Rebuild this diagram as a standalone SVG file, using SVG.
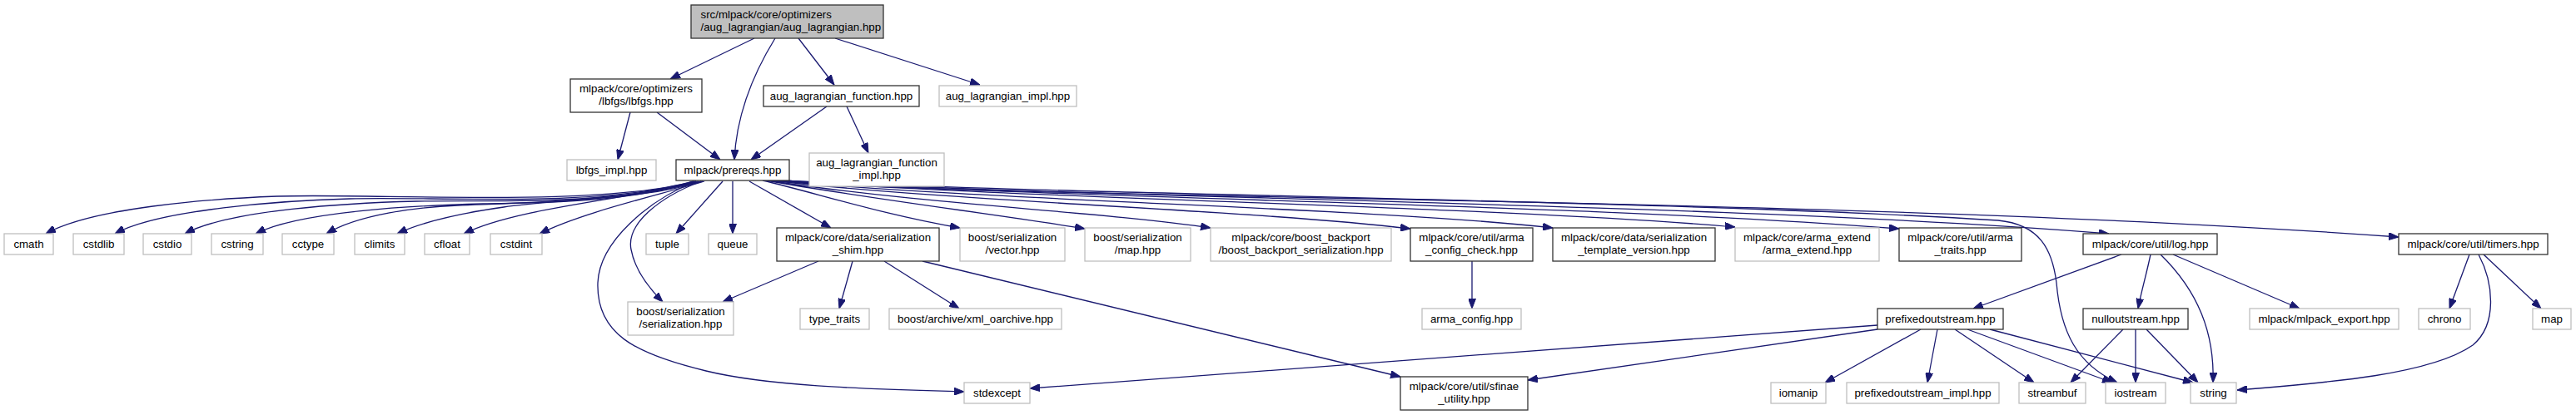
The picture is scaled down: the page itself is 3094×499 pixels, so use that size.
<svg xmlns="http://www.w3.org/2000/svg" width="3094" height="499" viewBox="0 0 3094 499">
<style>
text{font-family:"Liberation Sans",Arial,sans-serif;font-size:13.3px;fill:#000;text-anchor:middle}
.d rect{fill:#fff;stroke:#333;stroke-width:1.3}
.u rect{fill:#fff;stroke:#bfbfbf;stroke-width:1.3}
.r rect{fill:#bfbfbf;stroke:#333;stroke-width:1.3}
.r text{text-anchor:start}
#edges path{fill:none;stroke:#191970;stroke-width:1.3;marker-end:url(#a)}
</style>
<defs>
<marker id="a" viewBox="0 0 12 9" refX="12" refY="4.5" markerWidth="12" markerHeight="9" orient="auto" markerUnits="userSpaceOnUse"><path d="M0,0L12,4.5L0,9z" fill="#191970" stroke="#191970" stroke-width="1"/></marker>
</defs>
<rect width="3094" height="499" fill="#fff"/>
<g id="edges">
<path d="M906,46L805,95"/>
<path d="M931,46C910,80 885,130 882,192"/>
<path d="M959,46L1002,102"/>
<path d="M1003,46L1177,102"/>
<path d="M757,135L742,192"/>
<path d="M789,135L865,192"/>
<path d="M993,128L902,192"/>
<path d="M1017,128L1043,184"/>
<path d="M832,218C720,250 450,232 333,236C250,239 110,250 55,281"/>
<path d="M834,218C720,250 520,236 420,239C340,241 190,252 138,281"/>
<path d="M836,218C730,248 590,240 500,242C420,244 275,252 222,281"/>
<path d="M838,218C740,246 650,243 580,245C500,247 360,254 307,281"/>
<path d="M840,218C760,242 620,244 550,247C500,249 430,258 392,281"/>
<path d="M842,218C780,240 660,240 605,249C570,254 515,263 477,281"/>
<path d="M844,218C750,240 620,250 557,281"/>
<path d="M846,218C790,235 700,255 648,281"/>
<path d="M836,218C780,240 720,290 718,340C716,400 760,425 848,446C930,466 1060,468 1158,471"/>
<path d="M842,218C790,238 752,270 758,300C762,322 778,345 796,363"/>
<path d="M868,218L812,281"/>
<path d="M880,218L880,281"/>
<path d="M900,218L998,274"/>
<path d="M916,217C980,232 1060,258 1153,274"/>
<path d="M920,217C1050,240 1200,258 1303,275"/>
<path d="M923,217C1100,245 1330,255 1454,274"/>
<path d="M926,217C1150,243 1500,252 1694,275"/>
<path d="M929,217C1200,242 1650,250 1865,274"/>
<path d="M932,217C1250,240 1800,248 2084,273"/>
<path d="M935,217C1300,240 1900,245 2281,275"/>
<path d="M938,217C1300,238 2100,245 2533,281"/>
<path d="M945,217C1150,240 2200,235 2881,285"/>
<path d="M940,217C1300,235 2000,240 2400,265C2450,270 2465,300 2470,340C2475,400 2495,438 2543,460"/>
<path d="M983,314L868,363"/>
<path d="M1024,314L1008,371"/>
<path d="M1062,314L1152,371"/>
<path d="M1108,314L1682,453"/>
<path d="M1768,314L1768,371"/>
<path d="M2548,306L2370,371"/>
<path d="M2583,306C2578,330 2572,350 2568,371"/>
<path d="M2595,306C2640,350 2660,400 2658,460"/>
<path d="M2610,306L2762,371"/>
<path d="M2966,306L2942,371"/>
<path d="M2983,306L3052,371"/>
<path d="M2977,306C2995,340 3000,390 2970,415C2920,450 2800,460 2687,469"/>
<path d="M2307,396L2192,460"/>
<path d="M2327,396L2315,460"/>
<path d="M2348,396L2443,460"/>
<path d="M2363,396L2537,460"/>
<path d="M2390,396L2634,460"/>
<path d="M2255,391L1237,467"/>
<path d="M2255,396L1835,457"/>
<path d="M2550,396L2487,460"/>
<path d="M2565,396L2565,460"/>
<path d="M2578,396L2640,460"/>
</g>
<g id="root" class="r"><rect x="830" y="6" width="231" height="40"/><text x="841.5" y="22">src/mlpack/core/optimizers</text><text x="841.5" y="37">/aug_lagrangian/aug_lagrangian.hpp</text></g>
<g id="lbfgs" class="d"><rect x="685" y="95" width="158" height="40"/><text x="764" y="111.3">mlpack/core/optimizers</text><text x="764" y="126.3">/lbfgs/lbfgs.hpp</text></g>
<g id="aug_function" class="d"><rect x="917" y="103" width="187" height="25"/><text x="1010.5" y="120.2">aug_lagrangian_function.hpp</text></g>
<g id="aug_impl" class="u"><rect x="1128" y="103" width="165" height="25"/><text x="1210.5" y="120.2">aug_lagrangian_impl.hpp</text></g>
<g id="lbfgs_impl" class="u"><rect x="681" y="192" width="107" height="25"/><text x="734.5" y="209.2">lbfgs_impl.hpp</text></g>
<g id="prereqs" class="d"><rect x="812" y="192" width="136" height="25"/><text x="880" y="209.2">mlpack/prereqs.hpp</text></g>
<g id="aug_function_impl" class="u"><rect x="972" y="184" width="162" height="40"/><text x="1053" y="200.3">aug_lagrangian_function</text><text x="1053" y="215.3">_impl.hpp</text></g>
<g id="cmath" class="u"><rect x="5" y="281" width="59" height="25"/><text x="34.5" y="298.2">cmath</text></g>
<g id="cstdlib" class="u"><rect x="88" y="281" width="61" height="25"/><text x="118.5" y="298.2">cstdlib</text></g>
<g id="cstdio" class="u"><rect x="172" y="281" width="58" height="25"/><text x="201" y="298.2">cstdio</text></g>
<g id="cstring" class="u"><rect x="254" y="281" width="62" height="25"/><text x="285" y="298.2">cstring</text></g>
<g id="cctype" class="u"><rect x="339" y="281" width="62" height="25"/><text x="370" y="298.2">cctype</text></g>
<g id="climits" class="u"><rect x="426" y="281" width="60" height="25"/><text x="456" y="298.2">climits</text></g>
<g id="cfloat" class="u"><rect x="510" y="281" width="54" height="25"/><text x="537" y="298.2">cfloat</text></g>
<g id="cstdint" class="u"><rect x="589" y="281" width="62" height="25"/><text x="620" y="298.2">cstdint</text></g>
<g id="tuple" class="u"><rect x="776" y="281" width="51" height="25"/><text x="801.5" y="298.2">tuple</text></g>
<g id="queue" class="u"><rect x="851" y="281" width="58" height="25"/><text x="880" y="298.2">queue</text></g>
<g id="shim" class="d"><rect x="933" y="274" width="195" height="40"/><text x="1030.5" y="290.3">mlpack/core/data/serialization</text><text x="1030.5" y="305.3">_shim.hpp</text></g>
<g id="vector" class="u"><rect x="1153" y="274" width="126" height="40"/><text x="1216" y="290.3">boost/serialization</text><text x="1216" y="305.3">/vector.hpp</text></g>
<g id="bmap" class="u"><rect x="1303" y="274" width="127" height="40"/><text x="1366.5" y="290.3">boost/serialization</text><text x="1366.5" y="305.3">/map.hpp</text></g>
<g id="backport" class="u"><rect x="1454" y="274" width="217" height="40"/><text x="1562.5" y="290.3">mlpack/core/boost_backport</text><text x="1562.5" y="305.3">/boost_backport_serialization.hpp</text></g>
<g id="arma_config_check" class="d"><rect x="1694" y="274" width="147" height="40"/><text x="1767.5" y="290.3">mlpack/core/util/arma</text><text x="1767.5" y="305.3">_config_check.hpp</text></g>
<g id="template_version" class="d"><rect x="1865" y="274" width="195" height="40"/><text x="1962.5" y="290.3">mlpack/core/data/serialization</text><text x="1962.5" y="305.3">_template_version.hpp</text></g>
<g id="arma_extend" class="u"><rect x="2084" y="274" width="173" height="40"/><text x="2170.5" y="290.3">mlpack/core/arma_extend</text><text x="2170.5" y="305.3">/arma_extend.hpp</text></g>
<g id="arma_traits" class="d"><rect x="2281" y="274" width="147" height="40"/><text x="2354.5" y="290.3">mlpack/core/util/arma</text><text x="2354.5" y="305.3">_traits.hpp</text></g>
<g id="log" class="d"><rect x="2502" y="281" width="161" height="25"/><text x="2582.5" y="298.2">mlpack/core/util/log.hpp</text></g>
<g id="timers" class="d"><rect x="2881" y="281" width="179" height="25"/><text x="2970.5" y="298.2">mlpack/core/util/timers.hpp</text></g>
<g id="serialization" class="u"><rect x="754" y="363" width="127" height="40"/><text x="817.5" y="379.3">boost/serialization</text><text x="817.5" y="394.3">/serialization.hpp</text></g>
<g id="type_traits" class="u"><rect x="961" y="371" width="83" height="25"/><text x="1002.5" y="388.2">type_traits</text></g>
<g id="xml_oarchive" class="u"><rect x="1068" y="371" width="207" height="25"/><text x="1171.5" y="388.2">boost/archive/xml_oarchive.hpp</text></g>
<g id="arma_config" class="u"><rect x="1708" y="371" width="119" height="25"/><text x="1767.5" y="388.2">arma_config.hpp</text></g>
<g id="prefixedoutstream" class="d"><rect x="2255" y="371" width="151" height="25"/><text x="2330.5" y="388.2">prefixedoutstream.hpp</text></g>
<g id="nulloutstream" class="d"><rect x="2502" y="371" width="126" height="25"/><text x="2565" y="388.2">nulloutstream.hpp</text></g>
<g id="mlpack_export" class="u"><rect x="2702" y="371" width="179" height="25"/><text x="2791.5" y="388.2">mlpack/mlpack_export.hpp</text></g>
<g id="chrono" class="u"><rect x="2905" y="371" width="62" height="25"/><text x="2936" y="388.2">chrono</text></g>
<g id="map" class="u"><rect x="3042" y="371" width="46" height="25"/><text x="3065" y="388.2">map</text></g>
<g id="stdexcept" class="u"><rect x="1158" y="460" width="79" height="25"/><text x="1197.5" y="477.2">stdexcept</text></g>
<g id="sfinae" class="d"><rect x="1682" y="453" width="153" height="40"/><text x="1758.5" y="469.3">mlpack/core/util/sfinae</text><text x="1758.5" y="484.3">_utility.hpp</text></g>
<g id="iomanip" class="u"><rect x="2127" y="460" width="66" height="25"/><text x="2160" y="477.2">iomanip</text></g>
<g id="prefixedoutstream_impl" class="u"><rect x="2218" y="460" width="183" height="25"/><text x="2309.5" y="477.2">prefixedoutstream_impl.hpp</text></g>
<g id="streambuf" class="u"><rect x="2425" y="460" width="80" height="25"/><text x="2465" y="477.2">streambuf</text></g>
<g id="iostream" class="u"><rect x="2529" y="460" width="72" height="25"/><text x="2565" y="477.2">iostream</text></g>
<g id="string" class="u"><rect x="2631" y="460" width="55" height="25"/><text x="2658.5" y="477.2">string</text></g>
</svg>
